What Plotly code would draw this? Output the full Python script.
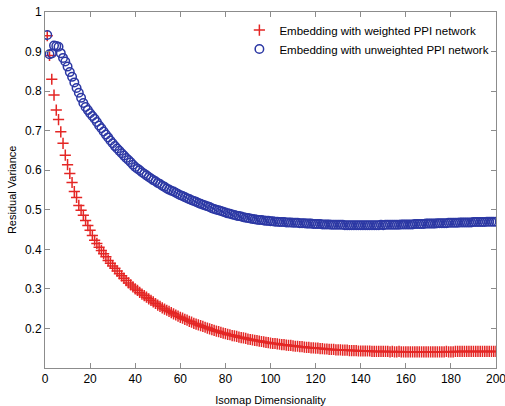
import plotly.graph_objects as go

dims = list(range(1, 201))

weighted = [
    0.940, 0.890, 0.830, 0.790, 0.752, 0.728, 0.697, 0.668, 0.638, 0.614,
    0.592, 0.569, 0.546, 0.531, 0.511, 0.499, 0.486, 0.473, 0.460, 0.448,
    0.435, 0.423, 0.415, 0.405, 0.397, 0.389, 0.381, 0.372, 0.365, 0.358,
    0.352, 0.345, 0.338, 0.333, 0.327, 0.321, 0.315, 0.310, 0.305, 0.300,
    0.296, 0.291, 0.287, 0.283, 0.279, 0.275, 0.271, 0.267, 0.263, 0.259,
    0.256, 0.252, 0.249, 0.246, 0.243, 0.240, 0.237, 0.234, 0.231, 0.228,
    0.226, 0.223, 0.221, 0.218, 0.216, 0.213, 0.211, 0.209, 0.207, 0.205,
    0.203, 0.201, 0.199, 0.197, 0.195, 0.193, 0.192, 0.190, 0.188, 0.187,
    0.185, 0.184, 0.182, 0.181, 0.180, 0.178, 0.177, 0.176, 0.175, 0.173,
    0.172, 0.171, 0.170, 0.169, 0.168, 0.167, 0.166, 0.165, 0.164, 0.163,
    0.162, 0.162, 0.161, 0.160, 0.159, 0.159, 0.158, 0.157, 0.157, 0.156,
    0.155, 0.155, 0.154, 0.154, 0.153, 0.152, 0.152, 0.151, 0.151, 0.150,
    0.150, 0.149, 0.149, 0.148, 0.148, 0.147, 0.147, 0.147, 0.146, 0.146,
    0.146, 0.145, 0.145, 0.145, 0.144, 0.144, 0.144, 0.144, 0.143, 0.143,
    0.143, 0.143, 0.143, 0.143, 0.142, 0.142, 0.142, 0.142, 0.142, 0.142,
    0.142, 0.142, 0.141, 0.142, 0.141, 0.141, 0.142, 0.141, 0.141, 0.141,
    0.141, 0.141, 0.141, 0.141, 0.141, 0.141, 0.141, 0.141, 0.141, 0.141,
    0.141, 0.141, 0.141, 0.141, 0.141, 0.141, 0.141, 0.142, 0.141, 0.141,
    0.141, 0.142, 0.142, 0.142, 0.142, 0.142, 0.142, 0.142, 0.142, 0.142,
    0.142, 0.142, 0.142, 0.142, 0.142, 0.142, 0.142, 0.142, 0.142, 0.142,
]

unweighted = [
    0.942, 0.893, 0.895, 0.915, 0.914, 0.912, 0.896, 0.884, 0.875, 0.862,
    0.848, 0.836, 0.822, 0.808, 0.796, 0.783, 0.770, 0.760, 0.752, 0.744,
    0.737, 0.730, 0.722, 0.713, 0.706, 0.698, 0.690, 0.683, 0.675, 0.668,
    0.661, 0.655, 0.649, 0.643, 0.637, 0.631, 0.626, 0.620, 0.614, 0.608,
    0.604, 0.600, 0.595, 0.591, 0.587, 0.583, 0.579, 0.575, 0.572, 0.568,
    0.565, 0.561, 0.558, 0.554, 0.551, 0.548, 0.546, 0.543, 0.540, 0.537,
    0.535, 0.532, 0.529, 0.527, 0.524, 0.522, 0.520, 0.517, 0.515, 0.513,
    0.511, 0.509, 0.507, 0.504, 0.502, 0.500, 0.499, 0.497, 0.495, 0.493,
    0.491, 0.490, 0.488, 0.487, 0.485, 0.484, 0.483, 0.481, 0.480, 0.479,
    0.478, 0.477, 0.476, 0.475, 0.474, 0.474, 0.473, 0.472, 0.472, 0.471,
    0.471, 0.470, 0.470, 0.469, 0.469, 0.469, 0.468, 0.468, 0.468, 0.467,
    0.467, 0.467, 0.466, 0.466, 0.466, 0.465, 0.465, 0.465, 0.464, 0.464,
    0.464, 0.464, 0.463, 0.463, 0.463, 0.463, 0.462, 0.462, 0.462, 0.462,
    0.462, 0.462, 0.461, 0.461, 0.461, 0.461, 0.461, 0.461, 0.461, 0.461,
    0.461, 0.461, 0.461, 0.461, 0.461, 0.461, 0.461, 0.461, 0.462, 0.461,
    0.462, 0.462, 0.462, 0.462, 0.462, 0.462, 0.462, 0.463, 0.463, 0.463,
    0.463, 0.463, 0.463, 0.464, 0.464, 0.464, 0.464, 0.464, 0.465, 0.465,
    0.465, 0.465, 0.465, 0.466, 0.466, 0.466, 0.466, 0.466, 0.467, 0.467,
    0.467, 0.467, 0.467, 0.468, 0.468, 0.468, 0.468, 0.468, 0.468, 0.469,
    0.469, 0.469, 0.469, 0.469, 0.469, 0.470, 0.470, 0.470, 0.470, 0.470,
]

x_ticks = [0, 20, 40, 60, 80, 100, 120, 140, 160, 180, 200]
y_ticks = [0.2, 0.3, 0.4, 0.5, 0.6, 0.7, 0.8, 0.9, 1.0]
y_tick_labels = ["0.2", "0.3", "0.4", "0.5", "0.6", "0.7", "0.8", "0.9", "1"]

RED = "rgb(228,38,36)"
BLUE = "rgb(44,56,164)"
FONT = "Liberation Sans, Arial, sans-serif"

fig = go.Figure()
fig.add_trace(go.Scatter(
    x=dims, y=weighted, mode="markers",
    name="Embedding with weighted PPI network",
    marker=dict(symbol="cross-thin", size=8, line=dict(color=RED, width=1.5), color=RED),
))
fig.add_trace(go.Scatter(
    x=dims, y=unweighted, mode="markers",
    name="Embedding with unweighted PPI network",
    marker=dict(symbol="circle-open", size=8.5, line=dict(color=BLUE, width=1.5), color=BLUE),
))

axis_common = dict(
    showline=True, linecolor="#8c8c8c", linewidth=1, mirror="ticks",
    ticks="inside", ticklen=5, tickcolor="#8c8c8c", showgrid=False, zeroline=False,
    tickfont=dict(family=FONT, size=12, color="black"),
    automargin=False, ticklabeloverflow="allow",
)

fig.update_layout(
    width=505, height=406,
    margin=dict(l=45, r=9, t=12, b=38),
    paper_bgcolor="white", plot_bgcolor="white",
    font=dict(family=FONT, size=11, color="black"),
    showlegend=True,
    legend=dict(x=0.431, y=0.99, xanchor="left", yanchor="top",
                bgcolor="rgba(0,0,0,0)", font=dict(family=FONT, size=11.5, color="black"),
                itemwidth=30, tracegroupgap=0),
    xaxis=dict(range=[0, 200], tickvals=x_ticks,
               title=dict(text="Isomap Dimensionality", font=dict(family=FONT, size=11)),
               **axis_common),
    yaxis=dict(range=[0.1, 1.0], tickvals=y_ticks, ticktext=y_tick_labels, **axis_common),
    annotations=[dict(
        text="Residual Variance", textangle=-90, showarrow=False,
        xref="paper", yref="paper", x=-0.073, y=0.5, xanchor="center", yanchor="middle",
        font=dict(family=FONT, size=11, color="black"),
    )],
)

fig.write_html(
    "out.html",
    config={"displayModeBar": False},
    post_script="document.body.style.margin='0';document.body.style.overflow='hidden';",
)
